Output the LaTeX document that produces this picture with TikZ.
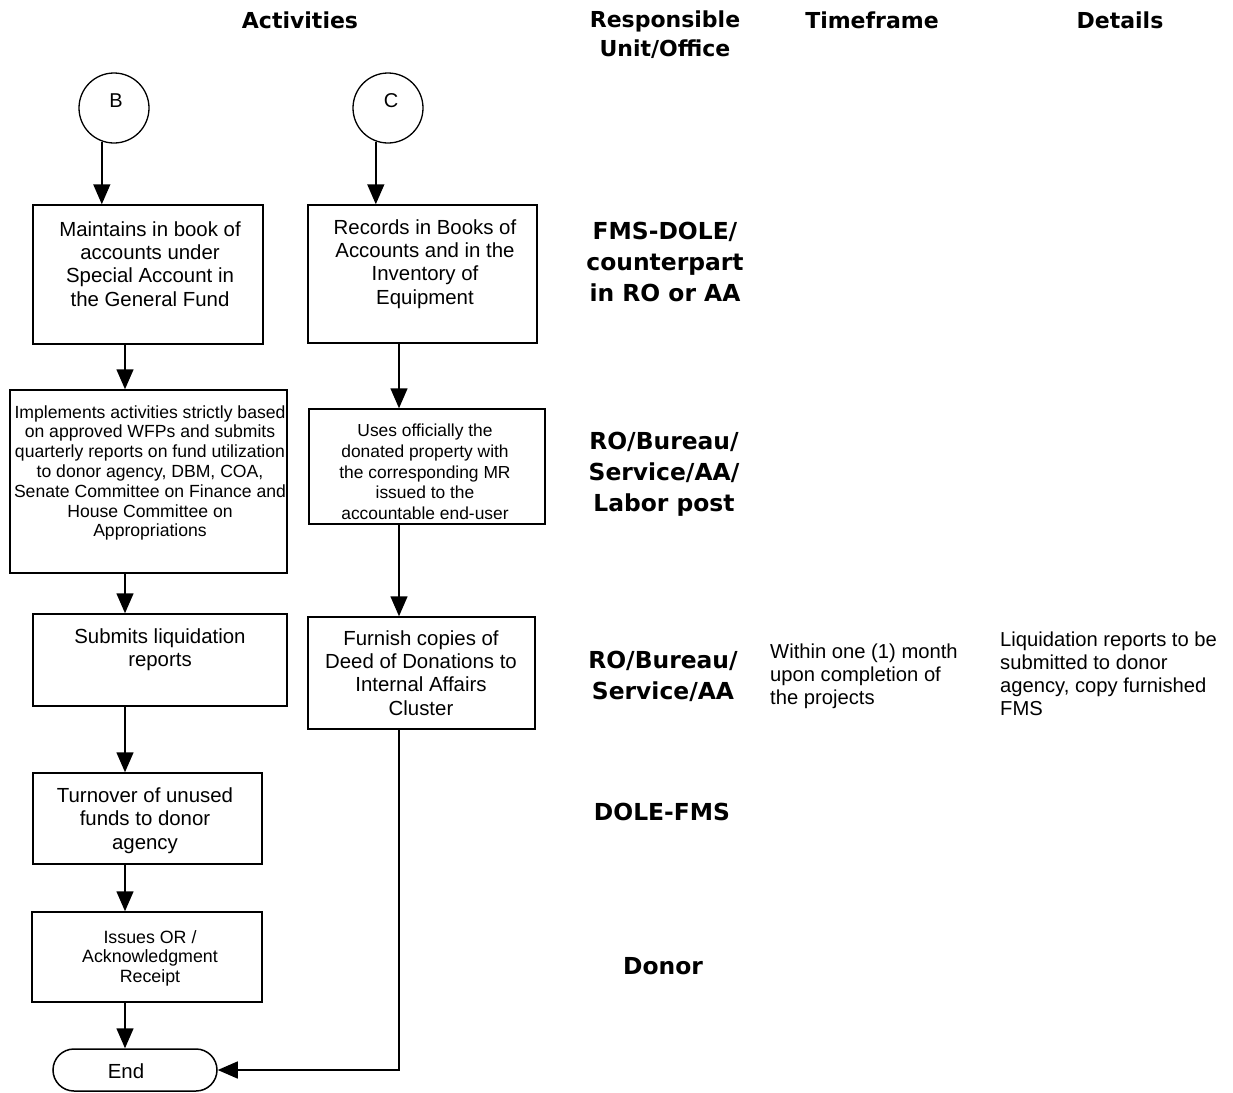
\documentclass[tikz,border=0pt]{standalone}
\usepackage{fontspec}
\setmainfont{Liberation Sans}
\newfontfamily\hfont{DejaVu Sans}
\usetikzlibrary{arrows.meta}
\begin{document}
\begin{tikzpicture}[x=1pt,y=-1pt,
  box/.style={draw, line width=1.5pt, inner sep=0pt},
  txt/.style={align=center, inner sep=0pt, font=\fontsize{20.4}{23.3}\selectfont},
  smalltxt/.style={align=center, inner sep=0pt, font=\fontsize{17.6}{19.8}\selectfont},
  head/.style={align=center, inner sep=0pt, font=\hfont\bfseries\fontsize{22}{29}\selectfont},
  unit/.style={align=center, inner sep=0pt, font=\hfont\bfseries\fontsize{23.4}{31}\selectfont},
  side/.style={align=left, anchor=west, inner sep=0pt, font=\fontsize{20.2}{23}\selectfont},
  arr/.style={line width=1.5pt, -{Triangle[length=20pt,width=17pt]}},
  conn/.style={draw, circle, line width=1.3pt, minimum size=70pt, inner sep=0pt}]
\useasboundingbox (0,0) rectangle (1233,1092);
% column coordinates
\coordinate (colA) at (125,0);
\coordinate (colC) at (399,0);
% headers
\node[head] (h1) at (300,20) {Activities};
\node[head] (h2) at (665,34.5) {Responsible\\Unit/Office};
\node[head] (h3) at (872,20) {Timeframe};
\node[head] (h4) at (1120,20) {Details};
% connector circles
\node[conn] (B) at (114,108) {};
\node[conn] (C) at (388,108) {};
\node[font=\fontsize{20}{23}\selectfont, inner sep=0pt] (Bt) at (116,101) {B};
\node[font=\fontsize{20}{23}\selectfont, inner sep=0pt] (Ct) at (391,101) {C};
% boxes
\node[box, minimum width=230pt, minimum height=139pt] (b1) at (148,274.5) {};
\node[box, minimum width=229pt, minimum height=138pt] (b2) at (422.5,274) {};
\node[box, minimum width=277pt, minimum height=183pt] (b3) at (148.5,481.5) {};
\node[box, minimum width=236pt, minimum height=115pt] (b4) at (427,466.5) {};
\node[box, minimum width=254pt, minimum height=92pt] (b5) at (160,660) {};
\node[box, minimum width=227pt, minimum height=112pt] (b6) at (421.5,673) {};
\node[box, minimum width=229pt, minimum height=91pt] (b7) at (147.5,818.5) {};
\node[box, minimum width=230pt, minimum height=90pt] (b8) at (147,957) {};
\node[box, minimum width=164pt, minimum height=42pt, rounded corners=21pt] (end) at (135,1070) {};
% box texts
\node[txt] (t1) at (150,264) {Maintains in book of\\accounts under\\Special Account in\\the General Fund};
\node[txt] (t2) at (425,264) {Records in Books of\\Accounts and in the\\Inventory of\\Equipment};
\node[smalltxt] (t3) at (150,473) {Implements activities strictly based\\on approved WFPs and submits\\quarterly reports on fund utilization\\to donor agency, DBM, COA,\\Senate Committee on Finance and\\House Committee on\\Appropriations};
\node[smalltxt, font=\fontsize{17.4}{20.7}\selectfont] (t4) at (425,472) {Uses officially the\\donated property with\\the corresponding MR\\issued to the\\accountable end-user};
\node[txt] (t5) at (160,650) {Submits liquidation\\reports};
\node[txt] (t6) at (421,673) {Furnish copies of\\Deed of Donations to\\Internal Affairs\\Cluster};
\node[txt] (t7) at (145,820.5) {Turnover of unused\\funds to donor\\agency};
\node[smalltxt, font=\fontsize{17.8}{19.6}\selectfont] (t8) at (150,958) {Issues OR /\\Acknowledgment\\Receipt};
\node[txt] (tend) at (126,1071) {End};
% responsible units
\node[unit] (r1) at (665,262) {FMS-DOLE/\\counterpart\\in RO or AA};
\node[unit] (r2) at (664,474.5) {RO/Bureau/\\Service/AA/\\Labor post};
\node[unit] (r3) at (663,676.5) {RO/Bureau/\\Service/AA};
\node[unit] (r4) at (662,812) {DOLE-FMS};
\node[unit] (r5) at (663,966) {Donor};
% timeframe and details
\node[side] (tf) at (770,676) {Within one (1) month\\upon completion of\\the projects};
\node[side] (dt) at (1000,674) {Liquidation reports to be\\submitted to donor\\agency, copy furnished\\FMS};
% arrows
\draw[arr] (B.250) -- (B.250 |- b1.north);
\draw[arr] (C.250) -- (C.250 |- b2.north);
\draw[arr] (b1.south -| colA) -- (b3.north -| colA);
\draw[arr] (b3.south -| colA) -- (b5.north -| colA);
\draw[arr] (b5.south -| colA) -- (b7.north -| colA);
\draw[arr] (b7.south -| colA) -- (b8.north -| colA);
\draw[arr] (b8.south -| colA) -- (end.north -| colA);
\draw[arr] (b2.south -| colC) -- (b4.north -| colC);
\draw[arr] (b4.south -| colC) -- (b6.north -| colC);
\draw[arr] (b6.south -| colC) |- (end.east);
\end{tikzpicture}
\end{document}
